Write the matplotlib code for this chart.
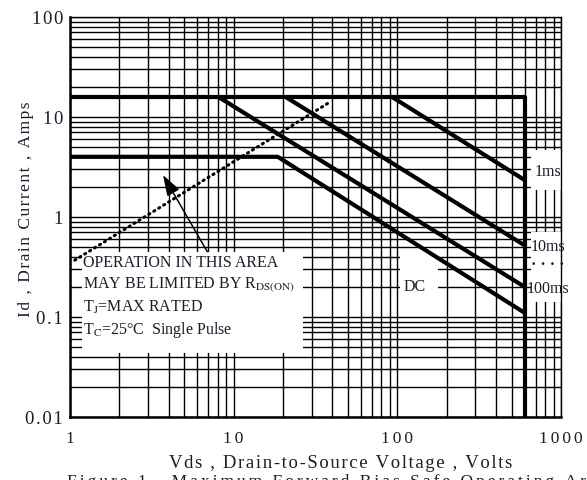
import matplotlib
matplotlib.use("Agg")
import matplotlib.pyplot as plt
from matplotlib.ticker import FixedLocator, LogLocator, NullFormatter
from matplotlib.patches import Rectangle

# ---------------------------------------------------------------- data
x_ticks = [1, 10, 100, 1000]
x_ticklabels = ["1", "10", "100", "1000"]
y_ticks = [0.01, 0.1, 1, 10, 100]
y_ticklabels = ["0.01", "0.1", "1", "10", "100"]

limit_v = [1, 600, 600]            # max current / max voltage frame
limit_i = [16, 16, 0.01]
pulse_1ms_v = [92, 600]
pulse_1ms_i = [16, 2.34]
pulse_10ms_v = [20.6, 600]
pulse_10ms_i = [16, 0.52]
pulse_100ms_v = [8.0, 600]
pulse_100ms_i = [16, 0.20]
dc_v = [1, 18.6, 600]
dc_i = [4, 4, 0.11]
rds_v = [1.07, 38.7]               # R_DS(on) limit (dotted)
rds_i = [0.37, 14.1]

arrow_tip = (3.7, 2.63)
arrow_tail = (6.9, 0.45)

box_lines = ["OPERATION IN THIS AREA",
             r"MAY BE LIMITED BY R$_{\mathrm{DS(ON)}}$",
             r"T$_{\mathrm{J}}$=MAX RATED",
             r"T$_{\mathrm{C}}$=25°C  Single Pulse"]

SERIF = ["Liberation Serif", "DejaVu Serif"]
INK = "#1c1c2a"
HAIR = "\u200a"
plt.rcParams["mathtext.fontset"] = "stix"


def spaced(s, gap=HAIR):  # fake letter spacing
    return gap.join(s)


fig = plt.figure(figsize=(5.87, 4.80), dpi=100)
ax = fig.add_axes([70 / 587, 1 - 417 / 480, 491 / 587, 400 / 480])
ax.set_xscale("log")
ax.set_yscale("log")
ax.set_xlim(1, 1000)
ax.set_ylim(0.01, 100)

ax.xaxis.set_major_locator(FixedLocator(x_ticks))
ax.yaxis.set_major_locator(FixedLocator(y_ticks))
ax.xaxis.set_minor_locator(LogLocator(base=10, subs=range(2, 10)))
ax.yaxis.set_minor_locator(LogLocator(base=10, subs=range(2, 10)))
ax.xaxis.set_minor_formatter(NullFormatter())
ax.yaxis.set_minor_formatter(NullFormatter())
ax.set_xticklabels([spaced(t, HAIR * 2) for t in x_ticklabels], family=SERIF, fontsize=12.5, color=INK)
ax.set_yticklabels([spaced(t) for t in y_ticklabels], family=SERIF, fontsize=13.5, color=INK)
ax.tick_params(which="both", length=0)
ax.tick_params(axis="x", pad=10)
ax.tick_params(axis="y", pad=5)

ax.set_axisbelow(True)
ax.grid(which="both", color="black", lw=1.0)
for side in ["left", "bottom"]:
    ax.spines[side].set_linewidth(1.8)
for side in ["top", "right"]:
    ax.spines[side].set_linewidth(1.0)

# white patches that hide the grid behind the labels
for (x0, y0, w, h) in [(0.0236, 0.16, 0.451, 0.2525),
                       (0.672, 0.2925, 0.0775, 0.12),
                       (0.939, 0.5675, 0.065, 0.10),
                       (0.939, 0.2875, 0.065, 0.175)]:
    ax.add_patch(Rectangle((x0, y0), w, h, transform=ax.transAxes,
                           facecolor="white", edgecolor="none", zorder=1))

thick = dict(color="black", lw=3.0, zorder=3, solid_capstyle="butt")
ax.plot(limit_v, limit_i, **thick)
ax.plot(pulse_1ms_v, pulse_1ms_i, **thick)
ax.plot(pulse_10ms_v, pulse_10ms_i, **thick)
ax.plot(pulse_100ms_v, pulse_100ms_i, **thick)
ax.plot(dc_v, dc_i, **thick)
ax.plot(rds_v, rds_i, color="black", lw=2.2, ls=(0, (0.4, 1.5)),
        dash_capstyle="round", zorder=3)

ax.annotate("", xy=arrow_tip, xytext=arrow_tail,
            arrowprops=dict(arrowstyle="-|>,head_length=0.9,head_width=0.3",
                            color="black", lw=1.1, mutation_scale=14, shrinkA=0, shrinkB=0),
            zorder=4)

# text block
for k, line in enumerate(box_lines):
    ax.text(0.0265, [0.385, 0.33, 0.275, 0.2175][k], line, transform=ax.transAxes,
            family=SERIF, fontsize=11.5, color=INK, va="center", ha="left", zorder=5)

lbl = dict(family=SERIF, fontsize=11.5, color=INK, va="center", ha="center", zorder=5)
ax.text(832, 2.82, "1ms", **lbl)
ax.text(832, 0.50, "10ms", **lbl)
ax.text(832, 0.33, "· · · ·", fontweight="bold", **lbl)
ax.text(832, 0.19, "100ms", **lbl)
ax.text(128, 0.20, "DC", **lbl)

fig.text(26 / 587, 1 - 209 / 480, spaced("Id , Drain Current , Amps"),
         rotation=90, family=SERIF, fontsize=12.5, color=INK, ha="center", va="center")
fig.text(341 / 587, 1 - 463 / 480, spaced("Vds , Drain-to-Source Voltage , Volts"),
         family=SERIF, fontsize=13.5, color=INK, ha="center", va="center")
fig.text(67 / 587, 1 - 474 / 480, spaced("Figure 1.  Maximum Forward Bias Safe Operating Area", HAIR * 2),
         family=SERIF, fontsize=12.5, color=INK, ha="left", va="top")

fig.savefig("out.png", dpi=100)
